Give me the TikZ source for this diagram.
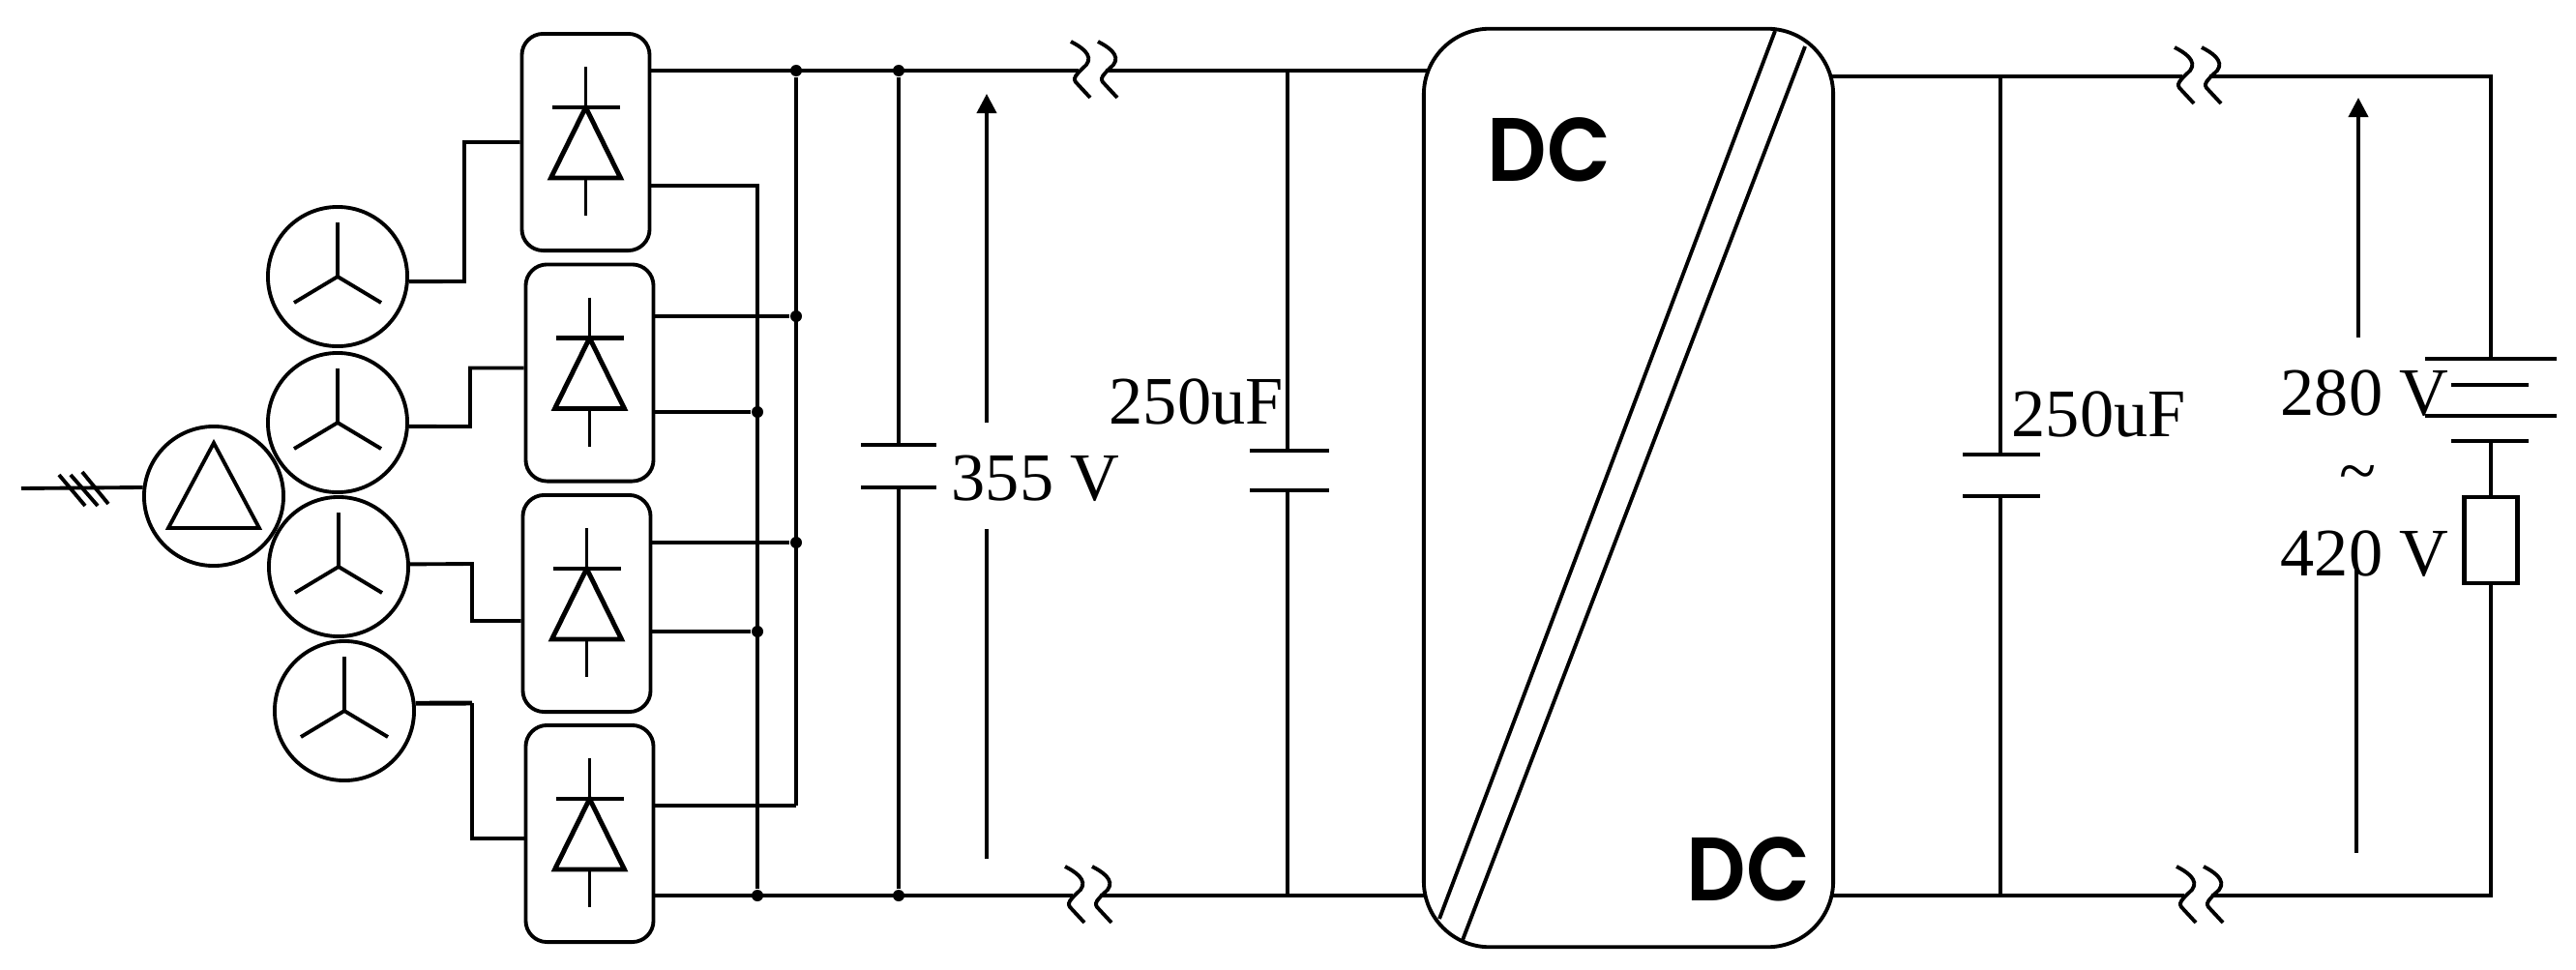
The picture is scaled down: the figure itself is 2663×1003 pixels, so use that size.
\documentclass[tikz,border=0pt]{standalone}
\usepackage{fontspec}
\setmainfont{Liberation Serif}
\newfontfamily\dcfont[FakeStretch=0.92]{Poppins SemiBold}
\usepackage{tikz}
\usetikzlibrary{arrows.meta}

\tikzset{
    wire/.style={line width=1.1pt},
    rail/.style={line width=1.4pt},
    rectbox/.style={draw, line width=1.1pt, rounded corners=0.22cm, minimum width=1.32cm, minimum height=2.24cm, inner sep=0},
    genring/.style={draw, circle, line width=1.1pt, minimum size=1.44cm, inner sep=0},
    convbox/.style={draw, line width=1.1pt, rounded corners=0.68cm, minimum width=4.23cm, minimum height=9.49cm, inner sep=0},
    loadbox/.style={draw, line width=1.2pt, minimum width=0.55cm, minimum height=0.89cm, inner sep=0},
    joint/.style={circle, fill=black, minimum size=0.12cm, inner sep=0},
    valtext/.style={anchor=base west, inner sep=0, font=\fontsize{20}{24}\selectfont},
    dctext/.style={anchor=base west, inner sep=0, font=\dcfont\fontsize{26.5}{32}\selectfont},
    rect diode/.pic={
        \draw[wire] (0,-78) -- (0,-36);
        \draw[rail] (-35,-36) -- (35,-36);
        \draw[rail] (0,-36) -- (36,37) -- (-36,37) -- cycle;
        \draw[wire] (0,37) -- (0,76);
    },
    wye/.pic={
        \draw[wire] (0,-56) -- (0,0) -- (-45,27);
        \draw[wire] (0,0) -- (45,27);
    },
    rail break/.pic={
        \draw[wire] (0,0) .. controls (10,5) and (24,14) .. (16,24) .. controls (6,34) and (0,38) .. (7,44) -- (20,58);
        \draw[wire] (28,0) .. controls (38,5) and (52,14) .. (44,24) .. controls (34,34) and (28,38) .. (35,44) -- (48,58);
        \coordinate (-l) at (8,30);
        \coordinate (-r) at (36,30);
    },
}

\begin{document}
\begin{tikzpicture}[x=0.01cm, y=-0.01cm]
    \useasboundingbox (0,0) rectangle (2663,1003);

    % generators and rectifiers
    \node[genring] (delta) at (221,513) {};
    \node[genring] (gen1) at (349,286) {};
    \node[genring] (gen2) at (349,437) {};
    \node[genring] (gen3) at (350,586) {};
    \node[genring] (gen4) at (356,735) {};
    \pic at (gen1.center) {wye};
    \pic at (gen2.center) {wye};
    \pic at (gen3.center) {wye};
    \pic at (gen4.center) {wye};
    \draw[wire] (221,458) -- (268,546) -- (174,546) -- cycle;

    \node[rectbox] (rect1) at (605.5,147) {};
    \node[rectbox] (rect2) at (609.5,385.5) {};
    \node[rectbox] (rect3) at (606.5,624) {};
    \node[rectbox] (rect4) at (609.5,862) {};
    \pic at (rect1.center) {rect diode};
    \pic at (rect2.center) {rect diode};
    \pic at (rect3.center) {rect diode};
    \pic at (rect4.center) {rect diode};

    % three phase input
    \coordinate (feed) at (22,505);
    \draw[wire] (feed) -- (delta.173);
    \draw[wire] (61,491) -- (88,523);
    \draw[wire] (73,491) -- (101,523);
    \draw[wire] (85,488) -- (112,521);

    % generator wires
    \coordinate (in1) at (rect1.west);
    \coordinate (in2) at ([yshift=0.05cm]rect2.west);
    \coordinate (in3) at ([yshift=-0.18cm]rect3.west);
    \coordinate (in4) at ([yshift=-0.05cm]rect4.west);
    \draw[wire] (gen1.-4) -- (480,291) |- (in1);
    \draw[wire] (gen2.-3) -- (486,441) |- (in2);
    \draw[wire] (gen3.2) -- (488,583) |- (in3);
    \draw[rail] (gen4.6) -- (488,727);
    \draw[wire] (488,727) |- (in4);

    % bus bars
    \coordinate (pos1) at (672,73);
    \coordinate (neg1) at (672,192);
    \coordinate (pos2) at (675,327);
    \coordinate (neg2) at (675,426);
    \coordinate (pos3) at (672,561);
    \coordinate (neg3) at (672,653);
    \coordinate (pos4) at (675,833);
    \coordinate (neg4) at (675,926);
    \node[joint] (busp) at (823,73) {};
    \node[joint] (busp2) at (823,327) {};
    \node[joint] (busp3) at (823,561) {};
    \node[joint] (busn2) at (783,426) {};
    \node[joint] (busn3) at (783,653) {};
    \node[joint] (busn) at (783,926) {};
    \node[joint] (captop) at (929,73) {};
    \node[joint] (capbot) at (929,926) {};
    \draw[wire] (neg1) -| (busn);
    \draw[wire] (pos2) -- (busp2);
    \draw[wire] (neg2) -- (busn2);
    \draw[wire] (pos3) -- (busp3);
    \draw[wire] (neg3) -- (busn3);
    \draw[rail] (pos4) -- (823,833);
    \draw[wire] (823,833) -- (busp);

    % dc link, left side
    \node[convbox] (conv) at (1683.5,504.5) {};
    \coordinate (convtl) at (1477,73);
    \coordinate (convbl) at (1474,926);
    \coordinate (convtr) at (1892,79);
    \coordinate (convbr) at (1893,926);
    \pic (brka) at (1107,43) {rail break};
    \pic (brkb) at (1101,896) {rail break};
    \pic (brkc) at (2248,49) {rail break};
    \pic (brkd) at (2250,896) {rail break};
    \draw[rail] (pos1) -- (brka-l);
    \draw[wire] (brka-r) -- (convtl);
    \draw[wire] (neg4) -- (brkb-l);
    \draw[wire] (brkb-r) -- (convbl);

    \draw[wire] (captop) -- (929,460);
    \draw[wire] (890,460) -- (968,460);
    \draw[wire] (890,504) -- (968,504);
    \draw[wire] (929,504) -- (capbot);

    \draw[wire] (1331,73) -- (1331,466);
    \draw[wire] (1292,466) -- (1374,466);
    \draw[wire] (1292,507) -- (1374,507);
    \draw[wire] (1331,507) -- (1331,926);

    \draw[wire, -{Triangle[length=0.2cm, width=0.2cm]}] (1020,437) -- (1020,97);
    \draw[wire] (1020,547) -- (1020,888);

    \node[valtext] (uleft) at (983,517) {355 V};
    \node[valtext] (capleft) at (1146,438) {250uF};

    % converter
    \draw[wire] (1835,32) -- (1488,950);
    \draw[wire] (1866,48) -- (1512,972);
    \node[dctext] (dcin) at (1537,187) {DC};
    \node[dctext] (dcout) at (1743,931) {DC};

    % dc link, right side and battery
    \coordinate (bat) at (2575,79);
    \coordinate (batb) at (2575,926);
    \node[loadbox] (load) at (2575,558.5) {};
    \draw[wire] (convtr) -- (brkc-l);
    \draw[wire] (brkc-r) -- (bat) -- (2575,371);
    \draw[wire] (convbr) -- (brkd-l);
    \draw[wire] (brkd-r) -- (batb) -- (load.south);
    \draw[wire] (2507,371) -- (2643,371);
    \draw[wire] (2534,398) -- (2614,398);
    \draw[wire] (2507,430) -- (2643,430);
    \draw[wire] (2534,456) -- (2614,456);
    \draw[wire] (2575,456) -- (load.north);

    \draw[wire] (2068,79) -- (2068,470);
    \draw[wire] (2029,470) -- (2109,470);
    \draw[wire] (2029,513) -- (2109,513);
    \draw[wire] (2068,513) -- (2068,926);

    \draw[wire, -{Triangle[length=0.2cm, width=0.2cm]}] (2438,349) -- (2438,101);
    \draw[wire] (2436,585) -- (2436,882);

    \node[valtext] (capright) at (2079,451) {250uF};
    \node[valtext] (umin) at (2357,429) {280 V};
    \node[valtext] (utilde) at (2418,510) {\textasciitilde};
    \node[valtext] (umax) at (2357,595) {420 V};
\end{tikzpicture}
\end{document}
